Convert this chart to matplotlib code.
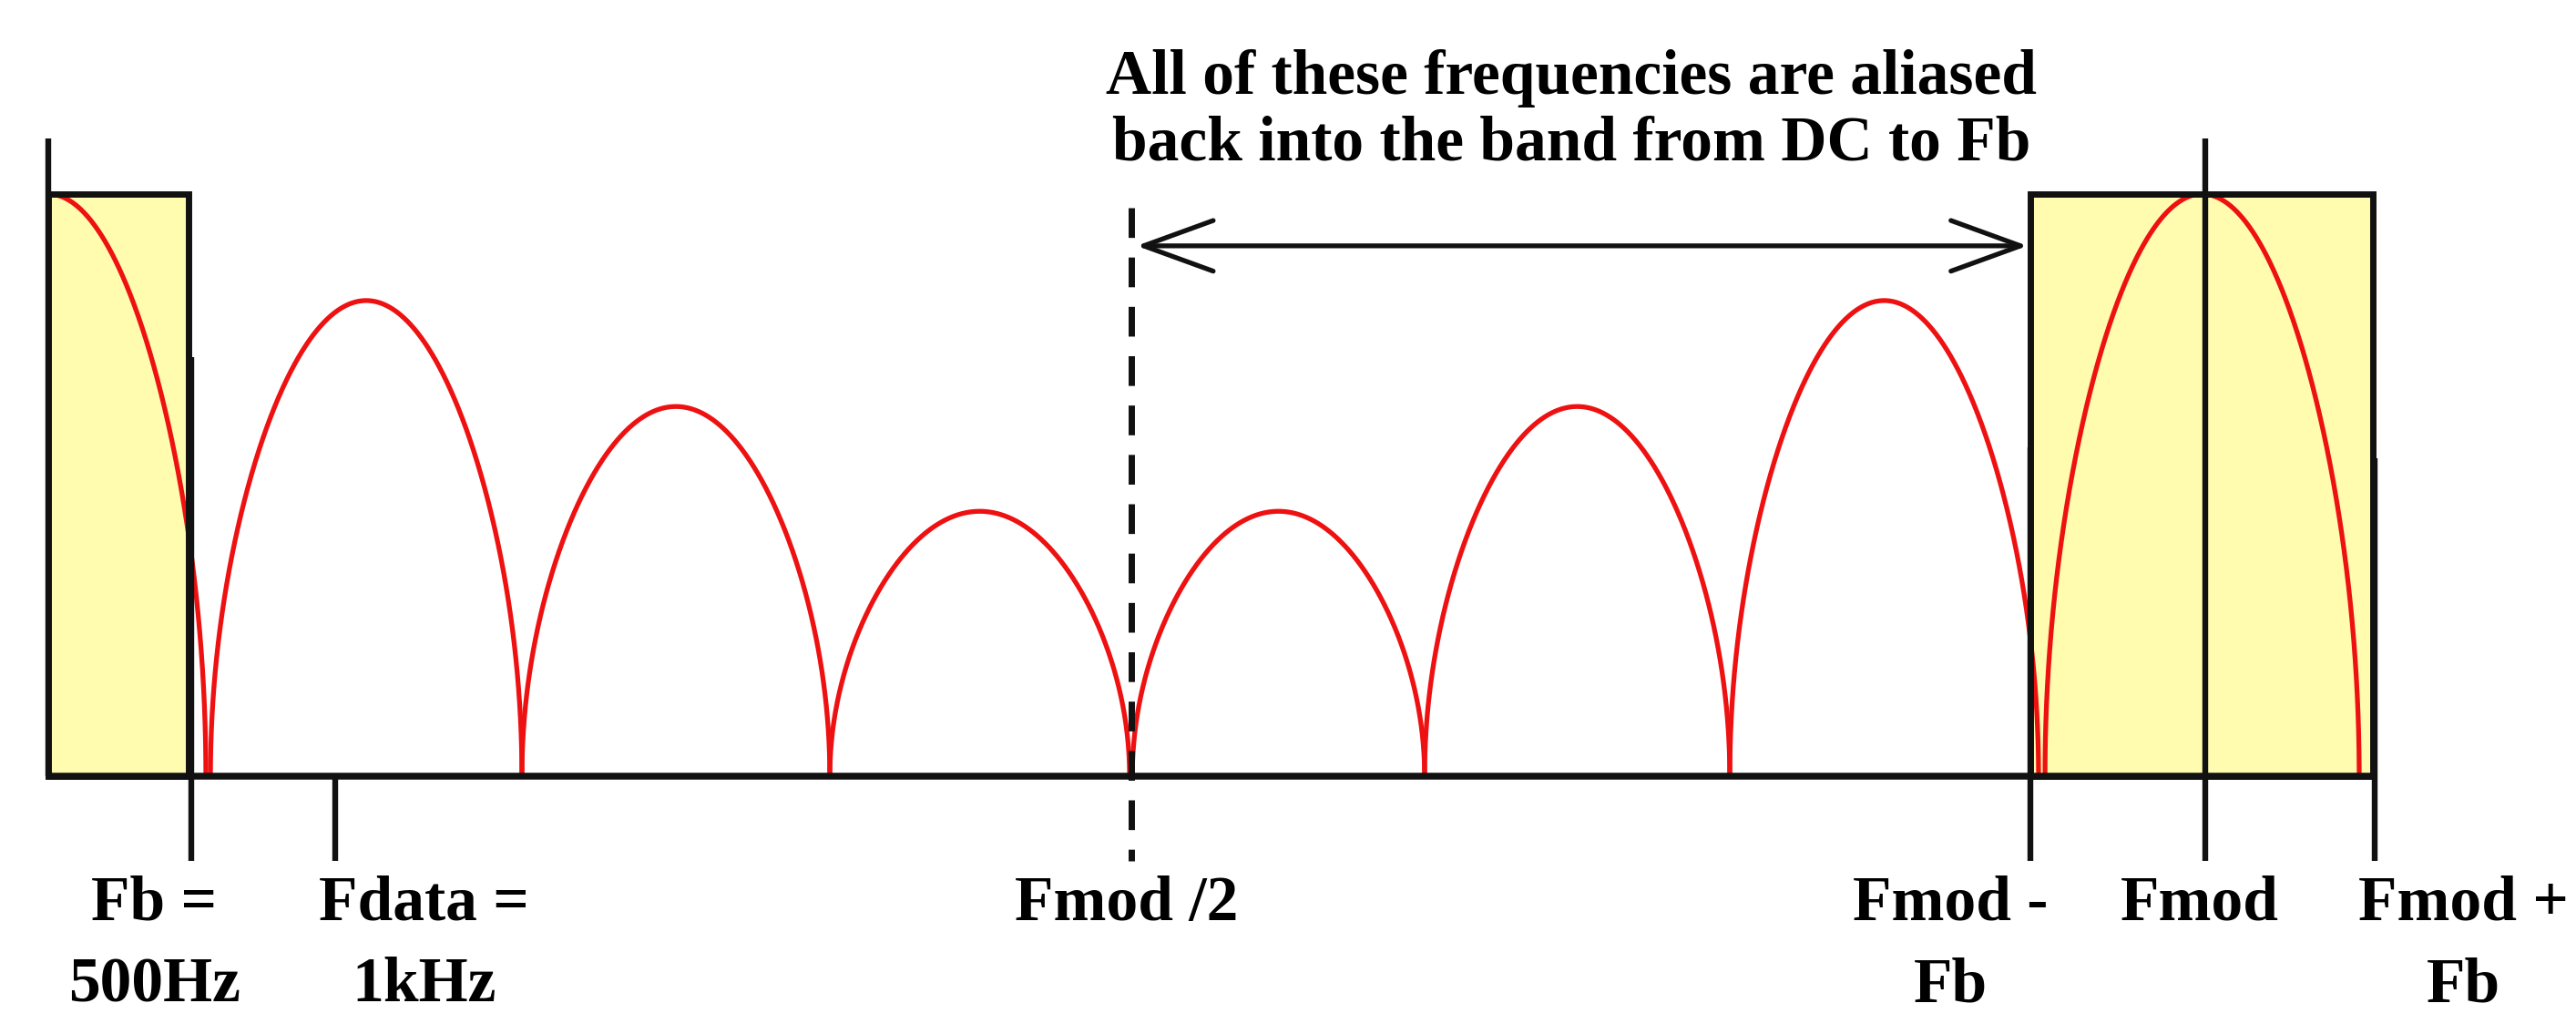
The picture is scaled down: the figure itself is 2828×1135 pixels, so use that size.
import numpy as np
import matplotlib
matplotlib.use("Agg")
import matplotlib.pyplot as plt
from matplotlib.patches import Rectangle, FancyArrowPatch, ArrowStyle

# ---------------- data (x in drawn Fb units, y relative amplitude) ----------------
lobe_left = [-1.102, 1.134, 3.312, 5.465, 7.580, 9.624, 11.758, 13.962]
lobe_right = [1.102, 3.312, 5.465, 7.561, 9.624, 11.758, 13.917, 16.159]
lobe_peak = [1.0, 0.817, 0.635, 0.455, 0.455, 0.635, 0.817, 1.0]

marker_names = ["DC", "Fb", "Fdata", "Fmod/2", "Fmod-Fb", "Fmod", "Fmod+Fb"]
marker_pos = [0.0, 1.0, 2.006, 7.573, 13.86, 15.08, 16.27]
marker_top = [1.095, 0.72, 0.0, 0.977, 0.565, 1.095, 0.546]
marker_bottom = [0.0, -0.146, -0.146, -0.146, -0.146, -0.146, -0.146]

band_left = [0.0, 13.86]
band_right = [0.98, 16.255]
band_top = [1.0, 1.0]

label_line1 = ["Fb =", "Fdata =", "Fmod /2", "Fmod -", "Fmod", "Fmod +"]
label_line2 = ["500Hz", "1kHz", "", "Fb", "", "Fb"]
label_x = [0.74, 2.63, 7.54, 13.30, 15.045, 16.89]

title_lines = ["All of these frequencies are aliased", "back into the band from DC to Fb"]
title_x = 10.65
title_y = [1.172, 1.059]

arrow_x = [7.61, 13.84]
arrow_y = 0.911

# ---------------- figure ----------------
fig = plt.figure(figsize=(28.28, 11.35), dpi=100)
ax = fig.add_axes([0, 0, 1, 1])
ax.set_xlim(-0.3376, 17.675)
ax.set_ylim(-0.4429, 1.3333)
ax.axis("off")

font = dict(family="Liberation Serif", weight="bold", size=50, color="black")
black = "#111111"
yellow = "#FFFCAF"
red = "#EE1111"

# yellow bands
for l, r, t in zip(band_left, band_right, band_top):
    ax.add_patch(Rectangle((l, 0), r - l, t, facecolor=yellow, edgecolor="none", zorder=1))

# red lobes
for a, b, h in zip(lobe_left, lobe_right, lobe_peak):
    s = np.linspace(0, 1, 800)
    t = (1 - np.cos(np.pi * s)) / 2
    x = a + (b - a) * t
    y = h * np.sqrt(np.clip(np.sin(np.pi * t), 0, None))
    m = x >= 0
    ax.plot(x[m], y[m], color=red, lw=3.8, zorder=3, solid_capstyle="butt")

# band outlines
for l, r, t in zip(band_left, band_right, band_top):
    ax.add_patch(Rectangle((l, 0), r - l, t, facecolor="none", edgecolor=black,
                           lw=5.0, zorder=4, joinstyle="miter"))

# baseline
ax.plot([marker_pos[0], marker_pos[-1]], [0, 0], color=black, lw=5.4, zorder=5,
        solid_capstyle="butt")

# marker lines
for name, xp, top, bot in zip(marker_names, marker_pos, marker_top, marker_bottom):
    if name == "Fmod/2":
        ln, = ax.plot([xp, xp], [top, bot], color=black, lw=5, zorder=5)
        ln.set_dashes((4.7, 3.1))
        ln.set_dash_capstyle("butt")
    else:
        ax.plot([xp, xp], [top, bot], color=black, lw=4.6, zorder=5,
                solid_capstyle="butt")

# double arrow
arr = FancyArrowPatch((arrow_x[0], arrow_y), (arrow_x[1], arrow_y),
                      arrowstyle=ArrowStyle("<->", head_length=5.5, head_width=2.0),
                      mutation_scale=10, lw=3.8, color=black, shrinkA=0, shrinkB=0,
                      zorder=6)
ax.add_patch(arr)

# title text
for line, yy in zip(title_lines, title_y):
    ax.text(title_x, yy, line, ha="center", va="baseline", **font)

# frequency labels
for xx, l1, l2 in zip(label_x, label_line1, label_line2):
    ax.text(xx, -0.247, l1, ha="center", va="baseline", **font)
    if l2:
        ax.text(xx, -0.387, l2, ha="center", va="baseline", **font)

fig.savefig("out.png", dpi=100, facecolor="white")
